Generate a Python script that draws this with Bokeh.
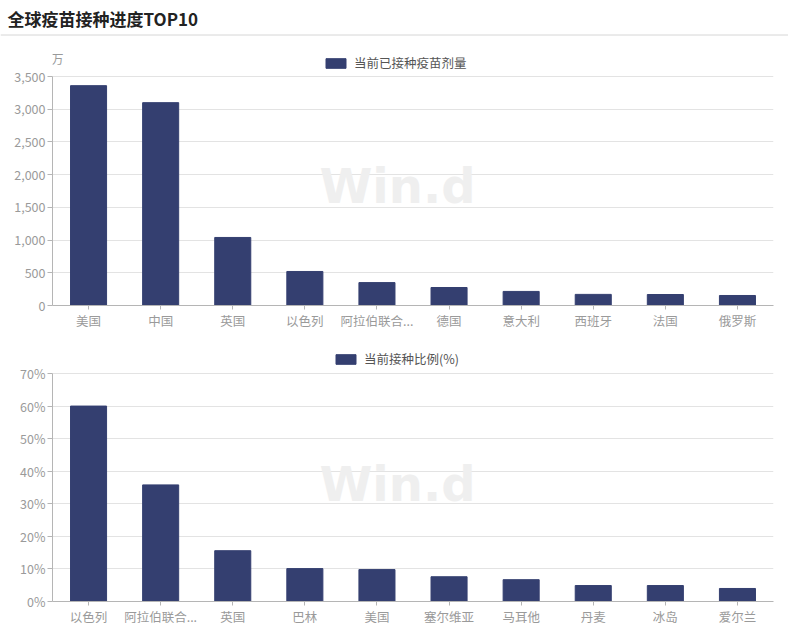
from bokeh.plotting import figure
from bokeh.models import (ColumnDataSource, Range1d, FactorRange, FixedTicker,
                          Legend, LegendItem, Label)
from bokeh.layouts import column
from bokeh.embed import file_html
from bokeh.resources import INLINE

# ---------------- data ----------------
title_text = "全球疫苗接种进度TOP10"

doses_countries = ["美国", "中国", "英国", "以色列", "阿拉伯联合...", "德国", "意大利", "西班牙", "法国", "俄罗斯"]
doses_values = [3360, 3100, 1040, 520, 350, 275, 215, 170, 168, 153]
doses_ticks = [0, 500, 1000, 1500, 2000, 2500, 3000, 3500]
doses_tick_labels = ["0", "500", "1,000", "1,500", "2,000", "2,500", "3,000", "3,500"]
doses_series = "当前已接种疫苗剂量"
doses_unit = "万"

ratio_countries = ["以色列", "阿拉伯联合...", "英国", "巴林", "美国", "塞尔维亚", "马耳他", "丹麦", "冰岛", "爱尔兰"]
ratio_values = [60.0, 35.8, 15.6, 10.1, 9.8, 7.6, 6.7, 4.9, 4.9, 4.0]
ratio_ticks = [0, 10, 20, 30, 40, 50, 60, 70]
ratio_tick_labels = ["0%", "10%", "20%", "30%", "40%", "50%", "60%", "70%"]
ratio_series = "当前接种比例(%)"

watermark = "Win.d"

# ---------------- styles ----------------
FONT = "Noto Sans CJK SC"
BAR = "#343f70"
GRID = "#e3e3e3"
AXIS = "#b5b5b5"
TICKLBL = "#9a9a9a"
W = 788


def make_title():
    p = figure(width=W, height=36, x_range=Range1d(0, W), y_range=Range1d(0, 36),
               x_axis_location=None, y_axis_location=None,
               output_backend="svg", toolbar_location=None,
               min_border_left=0, min_border_right=0, min_border_top=0, min_border_bottom=0)
    p.grid.visible = False
    p.outline_line_color = None
    p.add_layout(Label(x=7, y=18.5, text=title_text, text_font=FONT,
                       text_font_size="17px", text_font_style="bold",
                       text_color="#222222", text_baseline="middle"))
    p.segment(x0=[0], y0=[1.5], x1=[W], y1=[1.5], line_color="#d6d6d6", line_width=1)
    return p


def make_bar(countries, values, ticks, tick_labels, series, height, bottom_border,
             top_val_px, range_end, legend_x, legend_y, wm_y, unit=None):
    src = ColumnDataSource(dict(x=countries, y=values))
    p = figure(width=W, height=height, x_range=FactorRange(*countries),
               y_range=Range1d(0, range_end),
               output_backend="svg", toolbar_location=None,
               min_border_left=52, min_border_right=15, min_border_top=0,
               min_border_bottom=bottom_border)
    p.outline_line_color = None
    p.xgrid.visible = False
    p.ygrid.grid_line_color = GRID
    p.ygrid.grid_line_width = 1

    # watermark
    p.add_layout(Label(x=345, y=wm_y, x_units="screen", y_units="screen", text=watermark,
                       text_font="DejaVu Sans", text_font_size="48px",
                       text_font_style="bold", text_color="#efefef",
                       text_align="center", text_baseline="middle"))

    r = p.vbar(x="x", top="y", width=0.5, source=src, fill_color=BAR, line_color=BAR)

    yax = p.yaxis[0]
    yax.ticker = FixedTicker(ticks=ticks)
    yax.bounds = (ticks[0], ticks[-1])
    yax.major_label_overrides = {t: l for t, l in zip(ticks, tick_labels)}
    yax.minor_tick_line_color = None
    yax.major_tick_out = 5
    yax.major_tick_in = 0
    yax.major_label_standoff = 2
    yax.axis_line_color = AXIS
    yax.major_tick_line_color = AXIS
    yax.major_label_text_color = TICKLBL
    yax.major_label_text_font = FONT
    yax.major_label_text_font_size = "12.5px"

    xax = p.xaxis[0]
    xax.axis_line_color = AXIS
    xax.major_tick_line_color = AXIS
    xax.major_tick_out = 4
    xax.major_tick_in = 0
    xax.major_label_standoff = 1
    xax.major_label_text_color = TICKLBL
    xax.major_label_text_font = FONT
    xax.major_label_text_font_size = "12.5px"

    if unit:
        p.add_layout(Label(x=5, y=top_val_px + 18, x_units="screen", y_units="screen",
                           text=unit, text_font=FONT, text_font_size="12px",
                           text_color=TICKLBL, text_align="center", text_baseline="middle"))

    legend = Legend(items=[LegendItem(label=series, renderers=[r])],
                    location=(legend_x, legend_y), orientation="horizontal",
                    glyph_width=25, glyph_height=12, label_height=12,
                    label_standoff=6, padding=0, margin=0, spacing=0,
                    border_line_color=None, background_fill_alpha=0,
                    label_text_font=FONT, label_text_font_size="12.5px",
                    label_text_color="#555555")
    p.add_layout(legend, "center")
    return p


# fig1: page y 36..332, frame 36..305, 3500 at page 76
f1 = make_bar(doses_countries, doses_values, doses_ticks, doses_tick_labels, doses_series,
              height=296, bottom_border=27, top_val_px=229,
              range_end=3500 * 269 / 229, legend_x=271, legend_y=233, wm_y=120,
              unit=doses_unit)
# fig2: page y 332..628, frame 332..601, 70% at page 373
f2 = make_bar(ratio_countries, ratio_values, ratio_ticks, ratio_tick_labels, ratio_series,
              height=296, bottom_border=27, top_val_px=228,
              range_end=70 * 269 / 228, legend_x=281, legend_y=233, wm_y=118)

layout = column(make_title(), column(f1, f2, spacing=0), spacing=0)
open("out.html", "w").write(file_html(layout, INLINE))
